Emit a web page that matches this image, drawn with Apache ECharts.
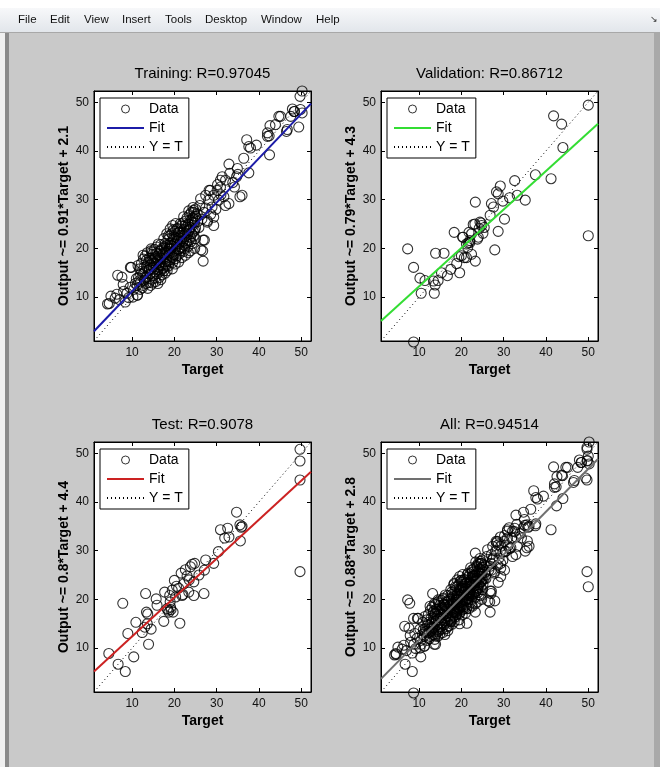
<!DOCTYPE html>
<html>
<head>
<meta charset="UTF-8">
<title>plotregression</title>
<style>
  html, body { margin: 0; padding: 0; background: #c9c9c9; }
  #main { width: 660px; height: 767px; }
</style>
</head>
<body>
<div id="main"></div>
<script src="https://cdn.jsdelivr.net/npm/echarts@6/dist/echarts.min.js"></script>
<script>
// values
var tickValues = [10, 20, 30, 40, 50];
var axisRange = [1, 52.3];
var titles = ['Training: R=0.97045', 'Validation: R=0.86712', 'Test: R=0.9078', 'All: R=0.94514'];
var yNames = ['Output ~= 0.91*Target + 2.1', 'Output ~= 0.79*Target + 4.3', 'Output ~= 0.8*Target + 4.4', 'Output ~= 0.88*Target + 2.8'];
var fitColors = ['#1c1ca8', '#33dd33', '#cc2222', '#707070'];
// fit line end points (target, output)
var fitLines = [
  [[1, 3.0], [52.3, 49.7]],
  [[1, 5.1], [52.3, 45.6]],
  [[1, 5.2], [52.3, 46.2]],
  [[1, 3.7], [52.3, 48.8]]
];
var identityLine = [[1, 1], [52.3, 52.3]];

var trainPoints = [
  [50.2,52.3],[49.7,51.2],[49.8,48.5],[50.2,47.8],[49.4,44.9],[47.9,48.6],[48.4,48.1],[47.5,47.1],[46.5,44.0],[45.1,47.1],
  [43.9,45.4],[42.6,45.2],[42.0,43.0],[42.4,43.1],[42.5,39.2],[39.4,41.2],[38.0,40.6],[37.1,42.3],[36.4,38.5],[37.6,35.5],
  [36.0,30.9],[35.5,30.6],[34.9,36.4],[34.7,34.7],[34.2,32.6],[32.9,37.3],[33.1,35.4],[32.1,34.0],[31.3,34.7],[30.9,32.6],
  [31.7,30.6],[32.1,28.8],[30.1,31.9],[29.3,30.9],[28.5,31.9],[28.1,29.9],[29.3,26.4],[28.9,28.5],[30.5,29.9],[27.4,30.9],
  [26.2,30.2],[27.0,27.4],[27.8,25.7],[26.8,21.7],[26.3,19.7],[26.8,17.4],[25.8,24.3],[25.4,27.1],[24.6,27.4],
  [32.9,29.2],[29.3,24.7],[27.8,25.4],[30.9,34.0],[28.2,31.9],[44.7,47.1],[46.7,44.4],[48.3,48.1],[42.0,43.7],[37.6,40.9],
  [33.8,33.5],[35.0,35.2],[31.0,31.0],[29.8,28.0],[28.6,27.0],[27.4,28.3],[26.5,26.0],[26.0,28.8],[25.5,25.5],[30.2,33.1],
  [4.2,8.6],[5.0,10.2],[6.6,14.5],[7.6,14.1],[6.4,10.6],[8.0,11.2],[8.4,9.0],[9.2,9.9],[9.8,16.1],[10.4,11.6],
  [10.2,10.0],[11.2,10.4],[11.6,13.3],[12.0,14.7],[7.9,12.6],[4.6,8.7],[9.6,16.1],[11.3,10.4],[14.5,19.9],[19.6,24.7],
  [27.1,21.7],[26.7,19.5],[7.0,9.5],[8.8,10.8],[9.5,12.0],[10.8,12.8],[6.0,9.8],
  [11.2,12.5],[11.5,14.0],[11.8,15.8],[12.0,13.1],[12.2,16.9],[12.4,11.9],[12.5,14.6],[12.7,17.8],[12.9,13.5],[13.0,15.2],
  [13.1,18.4],[13.3,12.8],[13.4,16.3],[13.5,14.1],[13.6,19.1],[13.8,15.5],[13.9,17.2],[14.0,13.0],[14.1,18.0],[14.2,14.8],
  [14.3,16.6],[14.4,12.4],[14.5,19.5],[14.6,15.9],[14.7,17.5],[14.8,13.7],[14.9,18.8],[15.0,16.2],[15.1,14.4],[15.2,17.0],
  [15.3,19.8],[15.4,15.1],[15.5,18.3],[15.6,13.2],[15.7,16.8],[15.8,19.0],[15.9,14.8],[16.0,17.6],[16.1,15.6],[16.2,18.7],
  [16.3,16.2],[16.4,14.0],[16.5,19.4],[16.6,17.1],[16.7,15.3],[16.8,18.1],[16.9,16.5],[17.0,19.9],[17.1,14.6],[17.2,17.9],
  [17.3,16.0],[17.4,18.9],[17.5,15.4],[17.6,20.3],[17.7,17.2],[17.8,14.9],[17.9,19.2],[18.0,16.7],
  [18.1,18.0],[18.2,20.6],[18.3,17.3],[18.4,19.4],[18.5,21.8],[18.6,16.4],[18.7,18.8],[18.8,20.1],[18.9,22.5],[19.0,17.6],
  [19.1,19.9],[19.2,21.2],[19.3,18.4],[19.4,23.0],[19.5,20.5],[19.6,17.1],[19.7,19.3],[19.8,21.9],[19.9,18.7],[20.0,20.9],
  [20.1,23.5],[20.2,19.6],[20.3,17.9],[20.4,22.2],[20.5,20.3],[20.6,18.5],[20.7,21.6],[20.8,24.1],[20.9,19.8],[21.0,22.7],
  [21.1,20.9],[21.2,18.9],[21.3,23.4],[21.4,21.3],[21.5,19.5],[21.6,24.6],[21.7,22.0],[21.8,20.2],[21.9,23.1],[22.0,25.2],
  [22.1,21.5],[22.2,19.4],[22.3,23.9],[22.4,22.4],[22.5,20.6],[22.6,25.6],[22.7,23.2],[22.8,21.1],[22.9,24.4],[23.0,26.3],
  [23.1,22.8],[23.2,20.4],[23.3,25.0],[23.4,23.6],[23.5,21.7],[23.6,26.9],[23.7,24.3],[23.8,22.3],[23.9,25.7],[24.0,27.4],
  [24.1,23.0],[24.2,21.0],[24.3,26.2],[24.4,24.8],[24.5,22.5],[24.6,27.8],[24.7,25.3],[24.8,23.7],[24.9,26.6],[25.0,24.2],
  [25.0,28.1],[24.8,20.0],[23.8,19.5],[22.6,18.6],[21.0,17.2],[19.5,15.8],[20.3,25.1],[19.0,24.0],[18.2,23.0],[17.5,22.0],
  [16.8,20.8],[15.8,20.3],
  [11.0,13.8],[11.4,16.5],[11.9,11.6],[12.3,15.3],[12.6,12.4],[12.8,16.1],[13.2,14.0],[13.7,11.8],[14.1,15.7],[14.4,17.9],
  [14.9,12.9],[15.1,16.9],[15.4,13.9],[15.8,17.3],[16.1,12.8],[16.4,16.7],[16.8,13.6],[17.2,15.8],[17.6,18.6],[17.9,16.3],
  [18.3,15.4],[18.6,19.9],[18.9,17.2],[19.3,20.6],[19.6,18.1],[19.9,22.4],[20.2,16.8],[20.6,21.0],[20.9,23.3],[21.2,19.9],
  [21.5,22.6],[21.8,18.1],[22.1,23.4],[22.4,20.0],[22.7,24.8],[23.0,21.6],[23.3,19.1],[23.6,23.9],[23.9,21.4],[24.2,25.3],
  [24.5,23.4],[24.8,26.0],[22.2,26.5],[21.4,25.1],[20.6,24.0],[19.8,23.8],[18.6,22.6],[17.8,21.0],[16.9,19.6],[16.2,20.9],
  [15.3,18.0],[14.7,19.2],[13.4,17.6],[12.6,18.6],[23.4,27.7],[24.4,28.4],[25.0,26.6],[25.0,22.0],[18.0,19.0],[19.0,21.0]
];

var validationPoints = [
  [8.7,0.8],[7.3,19.9],[8.7,16.1],[10.2,13.9],[10.5,10.8],[11.4,13.4],[13.4,13.3],[13.6,10.8],[13.9,19.0],[13.8,12.5],
  [14.5,13.4],[15.3,15.0],[15.9,19.0],[16.7,14.4],[17.5,15.7],[18.3,23.3],[19.6,15.0],[18.9,16.9],[19.4,18.3],[20.3,22.3],
  [20.7,18.1],[21.2,20.9],[21.6,21.1],[22.0,21.6],[21.5,20.2],[22.4,18.8],[22.8,24.9],[23.3,17.4],[23.3,29.5],[23.8,21.9],
  [24.2,24.1],[24.7,25.2],[25.1,23.1],[25.4,24.3],[21.8,23.3],[22.4,23.0],[26.8,26.8],[27.1,29.2],[27.6,28.5],[27.9,19.7],
  [28.3,31.6],[28.7,23.5],[28.7,31.2],[29.2,32.8],[29.8,29.7],[30.2,26.0],[31.4,30.4],[32.6,33.9],[33.2,30.9],[35.1,29.9],
  [37.5,35.1],[41.2,34.3],[41.8,47.2],[43.7,45.5],[44.0,40.7],[50.0,49.4],[50.0,22.6],
  [23.2,25.0],[24.8,24.7],[24.4,25.4],[22.0,21.2],[20.0,18.5],[21.2,18.1],[20.4,22.3],[24.0,22.3]
];

var testPoints = [
  [4.5,8.9],[6.7,6.7],[8.4,5.2],[7.8,19.2],[9.0,13.0],[10.4,8.2],[10.9,15.3],[12.4,13.2],[13.0,14.3],[13.2,21.2],
  [13.4,17.4],[13.7,17.0],[13.9,10.8],[14.5,13.9],[13.6,15.0],[15.7,20.1],[15.9,18.8],[17.5,15.5],[17.7,21.5],[18.3,18.1],
  [18.7,17.4],[18.9,20.8],[19.1,18.4],[19.5,21.9],[19.7,17.4],[20.0,23.9],[20.5,22.7],[21.3,15.1],[21.6,25.4],[21.8,20.8],
  [22.2,23.2],[22.6,26.1],[23.0,24.8],[23.4,21.5],[23.8,26.7],[24.2,27.2],[24.6,23.6],[24.6,20.8],[24.8,27.4],[25.8,25.0],
  [27.0,21.2],[27.1,26.0],[27.4,28.1],[29.3,27.4],[30.4,29.8],[30.9,34.3],[31.9,32.6],[32.6,34.6],[32.9,32.8],[34.7,37.9],
  [35.5,35.3],[35.8,34.8],[35.6,32.0],[36.0,35.0],[49.7,50.8],[49.7,48.4],[49.7,44.5],[49.7,25.7],
  [20.3,20.5],[19.0,19.5],[21.0,22.3],[22.0,21.0],[23.5,24.0],[18.5,17.8],[19.2,17.9]
];

// the All panel shows every point of the three sets
var allPoints = trainPoints.concat(validationPoints, testPoints);
var panelPoints = [trainPoints, validationPoints, testPoints, allPoints];

var gridLeft = [94, 381, 94, 381];
var gridTop = [91, 91, 442, 442];
var gridWidth = 217;
var gridHeight = 250;

var sans = "'Liberation Sans', Arial, sans-serif";

var grids = [], xAxes = [], yAxes = [], series = [], legends = [];

for (var i = 0; i < 4; i++) {
  grids.push({
    left: gridLeft[i], top: gridTop[i], width: gridWidth, height: gridHeight,
    show: true, backgroundColor: '#ffffff', borderColor: '#000', borderWidth: 1
  });

  var tickStyle = { show: true, inside: true, length: 4, customValues: tickValues, lineStyle: { color: '#000' } };

  // bottom x axis
  xAxes.push({
    type: 'value', gridIndex: i, position: 'bottom', min: axisRange[0], max: axisRange[1],
    name: 'Target', nameLocation: 'middle', nameGap: 22,
    nameTextStyle: { fontFamily: sans, fontSize: 14, fontWeight: 'bold', color: '#000' },
    axisLine: { show: true, onZero: false, lineStyle: { color: '#000' } },
    axisTick: tickStyle,
    axisLabel: { customValues: tickValues, margin: 6, fontFamily: sans, fontSize: 12, color: '#111' },
    splitLine: { show: false }
  });
  // top x axis carries the title
  xAxes.push({
    type: 'value', gridIndex: i, position: 'top', min: axisRange[0], max: axisRange[1],
    name: titles[i], nameLocation: 'middle', nameGap: 10,
    nameTextStyle: { fontFamily: sans, fontSize: 15, color: '#000' },
    axisLine: { show: true, onZero: false, lineStyle: { color: '#000' } },
    axisTick: tickStyle,
    axisLabel: { show: false },
    splitLine: { show: false }
  });
  // left y axis
  yAxes.push({
    type: 'value', gridIndex: i, position: 'left', min: axisRange[0], max: axisRange[1],
    name: yNames[i], nameLocation: 'middle', nameGap: 23,
    nameTextStyle: { fontFamily: sans, fontSize: 14, fontWeight: 'bold', color: '#000' },
    axisLine: { show: true, onZero: false, lineStyle: { color: '#000' } },
    axisTick: tickStyle,
    axisLabel: { customValues: tickValues, margin: 5, fontFamily: sans, fontSize: 12, color: '#111' },
    splitLine: { show: false }
  });
  // right y axis, ticks only
  yAxes.push({
    type: 'value', gridIndex: i, position: 'right', min: axisRange[0], max: axisRange[1],
    axisLine: { show: true, onZero: false, lineStyle: { color: '#000' } },
    axisTick: tickStyle,
    axisLabel: { show: false },
    splitLine: { show: false }
  });

  series.push({
    name: 'Y = T#' + i, type: 'line', xAxisIndex: 2 * i, yAxisIndex: 2 * i,
    data: identityLine, symbol: 'none', silent: true,
    lineStyle: { color: '#000', width: 1, type: [1, 3] }, itemStyle: { color: '#000' }
  });
  series.push({
    name: 'Fit#' + i, type: 'line', xAxisIndex: 2 * i, yAxisIndex: 2 * i,
    data: fitLines[i], symbol: 'none', silent: true,
    lineStyle: { color: fitColors[i], width: 2 }, itemStyle: { color: fitColors[i] }
  });
  series.push({
    name: 'Data#' + i, type: 'scatter', xAxisIndex: 2 * i, yAxisIndex: 2 * i,
    data: panelPoints[i], symbol: 'circle', symbolSize: 10, clip: false, silent: true,
    itemStyle: { color: 'rgba(0,0,0,0)', borderColor: '#000', borderWidth: 1.1 }
  });

  legends.push({
    left: gridLeft[i] + 6, top: gridTop[i] + 7, orient: 'vertical',
    data: [
      { name: 'Data#' + i },
      { name: 'Fit#' + i, itemStyle: { opacity: 0 } },
      { name: 'Y = T#' + i, itemStyle: { opacity: 0 } }
    ],
    formatter: function (name) { return name.split('#')[0]; },
    backgroundColor: '#fff', borderColor: '#000', borderWidth: 1, borderRadius: 0,
    padding: [4, 6, 4, 6], itemGap: 5, itemWidth: 37, itemHeight: 8,
    selectedMode: false,
    itemStyle: { borderWidth: 1 },
    textStyle: { fontFamily: sans, fontSize: 14, color: '#000' }
  });
}

var menuItems = ['File', 'Edit', 'View', 'Insert', 'Tools', 'Desktop', 'Window', 'Help'];
var menuX = [18, 50, 84, 122, 165, 205, 261, 316];

var graphics = [
  { type: 'rect', shape: { x: 0, y: 0, width: 660, height: 8 }, style: { fill: '#ffffff' }, silent: true },
  { type: 'rect', shape: { x: 0, y: 8, width: 660, height: 24 }, silent: true,
    style: { fill: new echarts.graphic.LinearGradient(0, 0, 0, 1, [
      { offset: 0, color: '#f7f8fa' }, { offset: 1, color: '#e2e6eb' }]) } },
  { type: 'line', shape: { x1: 0, y1: 32.5, x2: 660, y2: 32.5 }, style: { stroke: '#a8a8a8', lineWidth: 1 }, silent: true },
  { type: 'rect', shape: { x: 0, y: 33, width: 5, height: 734 }, style: { fill: '#f0f0f0' }, silent: true },
  { type: 'rect', shape: { x: 5, y: 33, width: 4, height: 734 }, style: { fill: '#8a8a8a' }, silent: true },
  { type: 'rect', shape: { x: 654, y: 33, width: 6, height: 734 }, style: { fill: '#a9a9a9' }, silent: true },
  { type: 'text', x: 650, y: 20, style: { text: '↘', fontSize: 9, fill: '#333', textVerticalAlign: 'middle' }, silent: true }
];
for (var k = 0; k < menuItems.length; k++) {
  graphics.push({
    type: 'text', x: menuX[k], y: 20, silent: true,
    style: { text: menuItems[k], fontFamily: sans, fontSize: 11.5, fill: '#111', textVerticalAlign: 'middle' }
  });
}

var chart = echarts.init(document.getElementById('main'), null, { renderer: 'canvas' });
chart.setOption({
  backgroundColor: '#c9c9c9',
  animation: false,
  grid: grids,
  xAxis: xAxes,
  yAxis: yAxes,
  legend: legends,
  graphic: graphics,
  series: series
});
</script>
</body>
</html>
